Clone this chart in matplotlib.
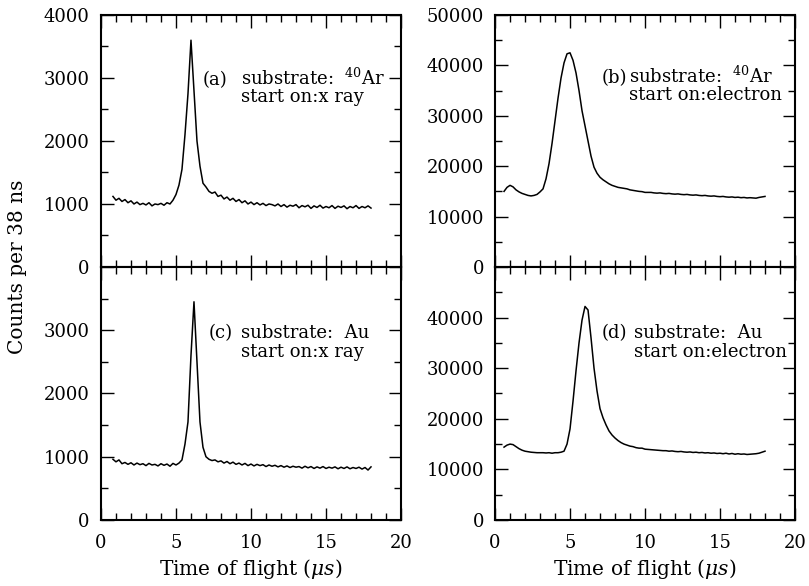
import numpy as np
import matplotlib
matplotlib.use('Agg')
import matplotlib.pyplot as plt
from matplotlib.ticker import MultipleLocator

plt.rcParams['font.family'] = 'DejaVu Serif'
plt.rcParams['mathtext.fontset'] = 'dejavuserif'

# time axes (microseconds)
t_xray = np.round(np.arange(0.8, 18.01, 0.2), 1)
t_elec = np.round(np.arange(0.6, 18.01, 0.2), 1)

# (a) 40Ar, start on x ray
counts_a = [1120, 1060, 1090, 1040, 1070, 1020, 1050, 1000, 1030, 990,
            1010, 985, 1020, 970, 1000, 990, 1010, 980, 1020, 1000,
            1060, 1150, 1300, 1550, 2100, 2750, 3600, 2800, 2000, 1600,
            1330, 1270, 1200, 1170, 1190, 1120, 1140, 1080, 1110, 1060,
            1090, 1040, 1070, 1020, 1050, 1000, 1030, 990, 1020, 985,
            1010, 975, 1000, 990, 970, 1000, 960, 990, 950, 980,
            965, 990, 940, 975, 955, 980, 930, 970, 945, 980,
            935, 960, 940, 975, 930, 965, 945, 970, 925, 960,
            940, 975, 930, 960, 940, 970, 935]

# (c) Au, start on x ray
counts_c = [960, 920, 950, 890, 910, 880, 905, 870, 900, 875,
            890, 860, 895, 870, 880, 855, 890, 865, 885, 850,
            895, 870, 900, 950, 1200, 1550, 2600, 3450, 2500, 1550,
            1150, 1000, 960, 940, 950, 920, 935, 900, 925, 890,
            915, 880, 900, 870, 895, 860, 885, 855, 880, 860,
            875, 845, 870, 850, 865, 840, 860, 835, 855, 830,
            850, 835, 845, 820, 850, 825, 845, 815, 840, 820,
            845, 815, 835, 820, 840, 810, 835, 815, 840, 810,
            830, 815, 835, 805, 830, 790, 840]

# (b) 40Ar, start on electron (thousands of counts)
counts_b = [15.0, 15.8, 16.2, 15.9, 15.3, 14.9, 14.6, 14.4, 14.2, 14.1,
            14.2, 14.4, 14.9, 15.5, 17.5, 20.5, 24.5, 29.0, 33.5, 37.5,
            40.5, 42.3, 42.5, 41.0, 38.5, 35.0, 31.0, 28.0, 25.0, 22.0,
            19.8, 18.6, 17.8, 17.3, 16.9, 16.5, 16.2, 16.0, 15.8, 15.7,
            15.6, 15.5, 15.3, 15.2, 15.1, 15.0, 14.95, 14.8, 14.8, 14.8,
            14.7, 14.65, 14.7, 14.6, 14.55, 14.6, 14.5, 14.45, 14.5, 14.4,
            14.35, 14.4, 14.3, 14.25, 14.3, 14.2, 14.15, 14.2, 14.1, 14.05,
            14.1, 14.0, 13.95, 14.0, 13.9, 13.85, 13.9, 13.8, 13.85, 13.75,
            13.8, 13.7, 13.75, 13.7, 13.65, 13.8, 13.9, 14.0]

# (d) Au, start on electron (thousands of counts)
counts_d = [14.4, 14.8, 15.0, 14.9, 14.5, 14.1, 13.8, 13.6, 13.5, 13.4,
            13.35, 13.3, 13.3, 13.3, 13.25, 13.3, 13.2, 13.3, 13.3, 13.4,
            13.6, 15.0, 18.0, 23.5, 29.5, 35.0, 39.5, 42.2, 41.5, 36.0,
            30.0, 25.5, 22.0, 20.2, 18.8, 17.6, 16.8, 16.2, 15.7, 15.3,
            15.0, 14.8, 14.6, 14.5, 14.3, 14.2, 14.2, 14.0, 13.95, 13.9,
            13.85, 13.8, 13.75, 13.7, 13.7, 13.6, 13.65, 13.55, 13.5, 13.55,
            13.45, 13.4, 13.45, 13.35, 13.4, 13.3, 13.35, 13.25, 13.3, 13.2,
            13.25, 13.15, 13.2, 13.1, 13.2, 13.05, 13.15, 13.0, 13.1, 13.0,
            13.05, 12.95, 13.0, 13.05, 13.1, 13.2, 13.4, 13.6]

panels = [
    ('(a)', r'substrate:  $^{40}$Ar', 'start on:x ray'),
    ('(b)', r'substrate:  $^{40}$Ar', 'start on:electron'),
    ('(c)', 'substrate:  Au', 'start on:x ray'),
    ('(d)', 'substrate:  Au', 'start on:electron'),
]

fig = plt.figure(figsize=(8.09, 5.86), dpi=100)
x_left = [0.1248, 0.6119]
width = [0.3709, 0.3708]
y_bot = [0.5444, 0.1126]
height = [0.4300, 0.4318]

axes = []
for r in range(2):
    for c in range(2):
        ax = fig.add_axes([x_left[c], y_bot[r], width[c], height[r]])
        axes.append(ax)

ax_a, ax_b, ax_c, ax_d = axes
ax_a.plot(t_xray, counts_a, color='black', lw=1.1)
ax_c.plot(t_xray, counts_c, color='black', lw=1.1)
ax_b.plot(t_elec, np.array(counts_b) * 1000, color='black', lw=1.1)
ax_d.plot(t_elec, np.array(counts_d) * 1000, color='black', lw=1.1)

text_pos = [(0.34, 0.467, 0.722, 0.656),
            (0.356, 0.447, 0.73, 0.663),
            (0.36, 0.467, 0.719, 0.644),
            (0.356, 0.463, 0.719, 0.644)]

for i, ax in enumerate(axes):
    left_col = i % 2 == 0
    top_row = i < 2
    ax.set_xlim(0, 20)
    ax.xaxis.set_major_locator(MultipleLocator(5))
    ax.xaxis.set_minor_locator(MultipleLocator(1))
    if left_col:
        ax.set_ylim(0, 4000)
        ax.yaxis.set_major_locator(MultipleLocator(1000))
        ax.yaxis.set_minor_locator(MultipleLocator(500))
        yt = [0, 1000, 2000, 3000, 4000]
    else:
        ax.set_ylim(0, 50000)
        ax.yaxis.set_major_locator(MultipleLocator(10000))
        ax.yaxis.set_minor_locator(MultipleLocator(5000))
        yt = [0, 10000, 20000, 30000, 40000, 50000]
    ax.set_yticks(yt)
    labels = [str(v) for v in yt]
    if not top_row:
        labels[-1] = ''
    ax.set_yticklabels(labels)
    ax.tick_params(which='both', direction='in', top=True, right=True,
                   labelsize=13, width=1.0)
    ax.tick_params(axis='y', which='both', pad=8)
    ax.tick_params(axis='x', which='both', pad=10)
    ax.tick_params(which='major', length=9)
    ax.tick_params(which='minor', length=5)
    for s in ax.spines.values():
        s.set_linewidth(1.5)
    if top_row:
        ax.tick_params(labelbottom=False)
    else:
        ax.set_xlabel(r'Time of flight ($\mu s$)', fontsize=14.5, labelpad=4)

    tag, line1, line2 = panels[i]
    px, sx, y1, y2 = text_pos[i]
    ax.text(px, y1, tag, transform=ax.transAxes, fontsize=13)
    ax.text(sx, y1, line1, transform=ax.transAxes, fontsize=13)
    ax.text(sx, y2, line2, transform=ax.transAxes, fontsize=13)

fig.text(0.022, 0.545, 'Counts per 38 ns', rotation=90, fontsize=14.5,
         ha='center', va='center')

plt.savefig('out.png', dpi=100)
